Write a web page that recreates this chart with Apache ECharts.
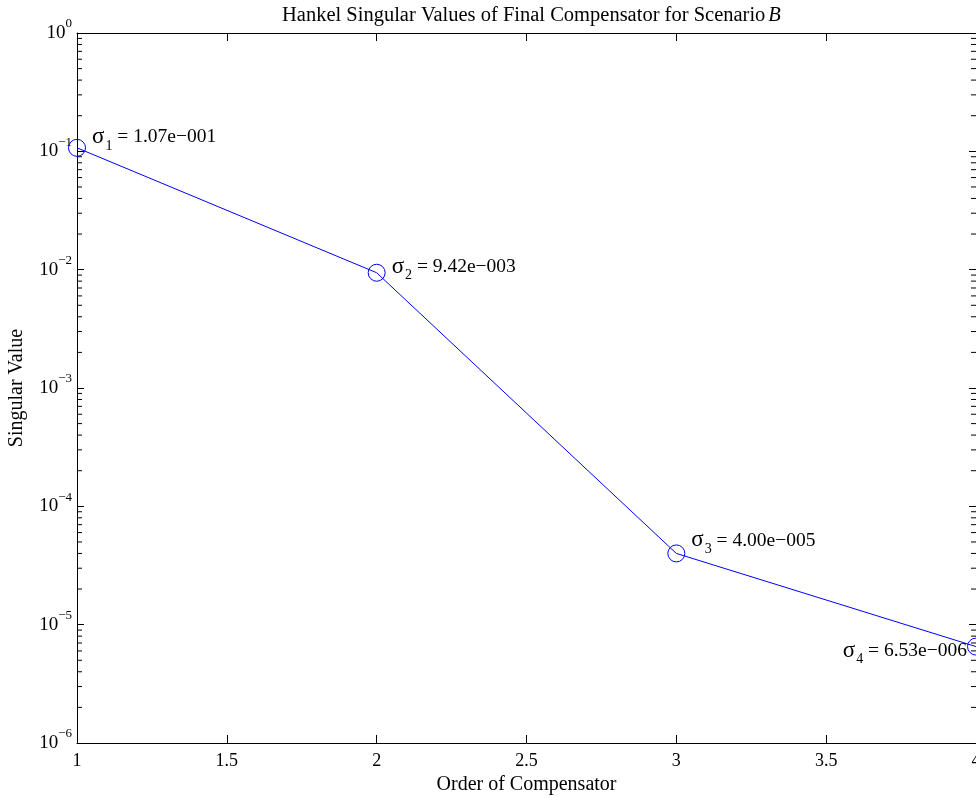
<!DOCTYPE html>
<html>
<head>
<meta charset="utf-8">
<script src="https://cdn.jsdelivr.net/npm/echarts@6/dist/echarts.min.js"></script>
<style>
  html, body { margin: 0; padding: 0; background: #fff; }
  #main { width: 976px; height: 798px; }
</style>
</head>
<body>
<div id="main"></div>
<script>
// data
var orders = [1, 2, 3, 4];
var sigmas = [1.07e-1, 9.42e-3, 4.00e-5, 6.53e-6];

// where each annotation sits relative to its marker
var labelSide = ['right', 'right', 'right', 'left'];
var labelShift = [[0, -11], [0, -6], [0, -13], [0, 4]];

// log axis decades and the 2..9 minor ticks inside each one
var decades = [-6, -5, -4, -3, -2, -1];
var minorSteps = [2, 3, 4, 5, 6, 7, 8, 9];

var FONT = 'Liberation Serif';
var myChart = echarts.init(document.getElementById('main'));

function matlabExp(v) {
  // 1.07e-001 style
  var e = Math.floor(Math.log10(v));
  var m = v / Math.pow(10, e);
  if (m >= 9.995) { m = m / 10; e += 1; }
  var es = String(Math.abs(e));
  while (es.length < 3) es = '0' + es;
  return m.toFixed(2) + 'e' + (e < 0 ? '\u2212' : '+') + es;
}

var minorVals = [];
decades.forEach(function (d) {
  minorSteps.forEach(function (s) { minorVals.push(s * Math.pow(10, d)); });
});

var lineData = orders.map(function (x, i) {
  var left = labelSide[i] === 'left';
  return {
    value: [x, sigmas[i]],
    label: {
      show: true,
      position: left ? 'left' : 'right',
      offset: labelShift[i],
      distance: left ? 0 : 6,
      formatter: '{s|\u03c3}{i|' + (i + 1) + '}{t| = ' + matlabExp(sigmas[i]) + '}'
    }
  };
});

var pow10Label = function (v) {
  var e = Math.round(Math.log10(v));
  return '{b|10}{e|' + (e < 0 ? '\u2212' + (-e) : e) + '}';
};

var axisLine = { lineStyle: { color: '#000', width: 1 } };

var option = {
  backgroundColor: '#fff',
  animation: false,
  title: {
    text: '{a|Hankel Singular Values of Final Compensator for Scenario}{b|B}',
    left: 277,
    top: 0,
    textStyle: {
      fontWeight: 'normal',
      rich: {
        a: { fontFamily: FONT, fontSize: 20.5, fontWeight: 'normal', color: '#000' },
        b: { fontFamily: FONT, fontSize: 20.5, fontStyle: 'italic', fontWeight: 'normal', color: '#000', padding: [0, 0, 0, 3] }
      }
    }
  },
  grid: { left: 77, top: 33, width: 899, height: 710, containLabel: false, outerBoundsMode: 'none' },
  xAxis: [{
    type: 'value', min: 1, max: 4, interval: 0.5,
    name: 'Order of Compensator', nameLocation: 'middle', nameGap: 25,
    nameTextStyle: { fontFamily: FONT, fontSize: 20, color: '#000' },
    axisLine: axisLine,
    axisTick: { inside: true, length: 8, lineStyle: { color: '#000' } },
    axisLabel: { fontFamily: FONT, fontSize: 18, color: '#000', margin: 9, showMaxLabel: true },
    splitLine: { show: false }
  }, {
    type: 'value', min: 1, max: 4, interval: 0.5, position: 'top',
    axisLine: axisLine,
    axisTick: { inside: true, length: 8, lineStyle: { color: '#000' } },
    axisLabel: { show: false },
    splitLine: { show: false }
  }],
  yAxis: [{
    type: 'log', logBase: 10, min: 1e-6, max: 1,
    name: 'Singular Value', nameLocation: 'middle', nameGap: 50,
    nameTextStyle: { fontFamily: FONT, fontSize: 20, color: '#000' },
    axisLine: axisLine,
    axisTick: { inside: true, length: 7, lineStyle: { color: '#000' } },
    axisLabel: {
      margin: 5, formatter: pow10Label,
      rich: {
        b: { fontFamily: FONT, fontSize: 19, color: '#000' },
        e: { fontFamily: FONT, fontSize: 13, color: '#000', padding: [0, 0, 18, 0] }
      }
    },
    splitLine: { show: false }
  }, {
    type: 'log', logBase: 10, min: 1e-6, max: 1, position: 'right',
    axisLine: axisLine,
    axisTick: { inside: true, length: 7, lineStyle: { color: '#000' } },
    axisLabel: { show: false },
    splitLine: { show: false }
  }],
  series: [{
    type: 'custom',
    silent: true,
    clip: false,
    data: minorVals.map(function (v) { return [1, v]; }),
    renderItem: function (params, api) {
      var v = api.value(1);
      var a = api.coord([1, v]);
      var b = api.coord([4, v]);
      var style = { stroke: '#000', lineWidth: 1 };
      return {
        type: 'group',
        children: [
          { type: 'line', shape: { x1: a[0], y1: a[1], x2: a[0] + 5, y2: a[1] }, style: style },
          { type: 'line', shape: { x1: b[0], y1: b[1], x2: b[0] - 5, y2: b[1] }, style: style }
        ]
      };
    }
  }, {
    type: 'line',
    data: lineData,
    symbol: 'circle',
    symbolSize: 17,
    showAllSymbol: true,
    lineStyle: { color: '#0000ff', width: 1 },
    itemStyle: { color: 'rgba(255,255,255,0)', borderColor: '#0000ff', borderWidth: 1 },
    label: {
      color: '#000',
      rich: {
        s: { fontFamily: FONT, fontSize: 23, color: '#000' },
        i: { fontFamily: FONT, fontSize: 14, color: '#000', padding: [18, 0, 0, 1] },
        t: { fontFamily: FONT, fontSize: 19.5, color: '#000' }
      }
    },
    emphasis: { disabled: true }
  }]
};

myChart.setOption(option);
</script>
</body>
</html>
